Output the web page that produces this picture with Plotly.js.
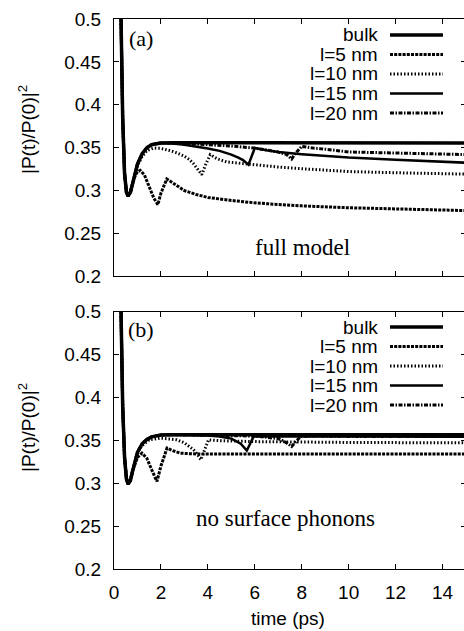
<!DOCTYPE html>
<html>
<head>
<meta charset="utf-8">
<script src="https://cdn.plot.ly/plotly-3.0.1.min.js"></script>
<style>
html,body{margin:0;padding:0;overflow:hidden;background:#fff;}
#chart{width:467px;height:631px;}
</style>
</head>
<body>
<div id="chart"></div>
<script>
// ---------- data ----------
var seriesNames = ['bulk', 'l=5 nm', 'l=10 nm', 'l=15 nm', 'l=20 nm'];
var xTickVals = [0, 2, 4, 6, 8, 10, 12, 14];

// Panel (a): full model
var bulkA_t = [0,0.1,0.2,0.3,0.37,0.45,0.53,0.6,0.7,0.8,0.9,1.0,1.2,1.4,1.6,1.8,2.0,2.5,3,4,6,8,10,12,15];
var bulkA_y = [1.0,0.93,0.75,0.5,0.385,0.32,0.298,0.2935,0.298,0.309,0.321,0.331,0.343,0.35,0.3535,0.355,0.3555,0.3558,0.3558,0.3557,0.3556,0.3555,0.3555,0.3555,0.3555];

var l5A_t = [0,0.1,0.2,0.3,0.37,0.45,0.53,0.6,0.7,0.8,0.9,1.0,1.12,1.3,1.5,1.7,1.87,2.0,2.25,2.5,3.0,3.5,4,5,6,7,8,10,12,14,15];
var l5A_y = [1.0,0.93,0.75,0.5,0.385,0.32,0.298,0.2935,0.299,0.309,0.317,0.322,0.3236,0.318,0.305,0.291,0.2837,0.297,0.3136,0.309,0.300,0.2955,0.292,0.2885,0.2857,0.2838,0.2822,0.2800,0.2785,0.2772,0.2767];

var l10A_t = [0,0.1,0.2,0.3,0.37,0.45,0.53,0.6,0.7,0.8,0.9,1.0,1.2,1.4,1.7,2.0,2.4,2.7,3.0,3.2,3.4,3.6,3.74,3.9,4.1,4.4,4.8,5.5,6,7,8,10,12,14,15];
var l10A_y = [1.0,0.93,0.75,0.5,0.385,0.32,0.298,0.2935,0.298,0.309,0.32,0.329,0.34,0.3465,0.3496,0.3492,0.3465,0.3438,0.340,0.3365,0.331,0.3235,0.3186,0.330,0.3419,0.337,0.3335,0.3315,0.330,0.3275,0.3255,0.3222,0.3208,0.3197,0.3192];

var l15A_t = [0,0.1,0.2,0.3,0.37,0.45,0.53,0.6,0.7,0.8,0.9,1.0,1.2,1.4,1.6,1.8,2.0,2.5,3.0,3.5,4.0,4.5,5.0,5.3,5.5,5.73,5.85,6.0,6.5,7,8,9,10,12,14,15];
var l15A_y = [1.0,0.93,0.75,0.5,0.385,0.32,0.298,0.2935,0.298,0.309,0.321,0.331,0.343,0.35,0.3535,0.355,0.3555,0.355,0.3535,0.3515,0.349,0.3463,0.342,0.3385,0.3355,0.3302,0.340,0.3496,0.347,0.345,0.3425,0.3405,0.3385,0.336,0.3335,0.3325];

var l20A_t = [0,0.1,0.2,0.3,0.37,0.45,0.53,0.6,0.7,0.8,0.9,1.0,1.2,1.4,1.6,1.8,2.0,2.5,3,4,5,6,6.5,7,7.36,7.57,7.75,8.0,8.5,9,10,12,14,15];
var l20A_y = [1.0,0.93,0.75,0.5,0.385,0.32,0.298,0.2935,0.298,0.309,0.321,0.331,0.343,0.35,0.3535,0.355,0.3555,0.3555,0.355,0.3535,0.352,0.3495,0.3475,0.345,0.342,0.3369,0.344,0.3516,0.3495,0.3483,0.345,0.3435,0.3425,0.342];

// Panel (b): no surface phonons
var bulkB_t = [0,0.1,0.2,0.3,0.37,0.45,0.53,0.6,0.7,0.8,0.9,1.0,1.2,1.4,1.6,1.8,2.0,2.5,3,4,6,8,10,12,15];
var bulkB_y = [1.0,0.93,0.75,0.5,0.39,0.33,0.305,0.299,0.303,0.315,0.327,0.336,0.346,0.351,0.354,0.3555,0.3562,0.3565,0.3565,0.3565,0.3565,0.3565,0.3565,0.3565,0.3565];

var l5B_t = [0,0.1,0.2,0.3,0.37,0.45,0.53,0.6,0.7,0.8,0.9,1.0,1.19,1.4,1.6,1.83,2.0,2.26,2.5,2.82,3.5,4,6,8,10,12,15];
var l5B_y = [1.0,0.93,0.75,0.5,0.39,0.33,0.305,0.299,0.305,0.315,0.324,0.330,0.335,0.329,0.316,0.302,0.320,0.341,0.338,0.335,0.334,0.334,0.334,0.334,0.334,0.334,0.334];

var l10B_t = [0,0.1,0.2,0.3,0.37,0.45,0.53,0.6,0.7,0.8,0.9,1.0,1.2,1.5,2.0,2.68,3.0,3.39,3.55,3.7,3.85,4.03,4.5,6,10,15];
var l10B_y = [1.0,0.93,0.75,0.5,0.39,0.33,0.305,0.299,0.303,0.315,0.327,0.336,0.344,0.3505,0.3525,0.3506,0.347,0.339,0.334,0.3273,0.338,0.3506,0.3495,0.3485,0.3475,0.347];

var l15B_t = [0,0.1,0.2,0.3,0.37,0.45,0.53,0.6,0.7,0.8,0.9,1.0,1.2,1.4,1.6,1.8,2.0,2.5,3,4,4.5,5.0,5.4,5.66,5.8,5.95,6.5,10,15];
var l15B_y = [1.0,0.93,0.75,0.5,0.39,0.33,0.305,0.299,0.303,0.315,0.327,0.336,0.346,0.351,0.354,0.3555,0.3562,0.3565,0.3563,0.3555,0.3545,0.352,0.346,0.338,0.346,0.3545,0.3548,0.3545,0.354];

var l20B_t = [0,0.1,0.2,0.3,0.37,0.45,0.53,0.6,0.7,0.8,0.9,1.0,1.2,1.4,1.6,1.8,2.0,2.5,4,6,7,7.3,7.57,7.75,7.95,8.5,10,15];
var l20B_y = [1.0,0.93,0.75,0.5,0.39,0.33,0.305,0.299,0.303,0.315,0.327,0.336,0.346,0.351,0.354,0.3555,0.3562,0.3565,0.356,0.355,0.352,0.348,0.3428,0.349,0.3545,0.355,0.3545,0.3545];

// ---------- styles ----------
var lineStyles = [
  {width: 3.5, dash: 'solid'},
  {width: 3, dash: '3px,1.2px'},
  {width: 3, dash: '1.5px,2px'},
  {width: 2.5, dash: 'solid'},
  {width: 3, dash: '4px,1.5px,1.5px,1.5px'}
];

var panelA = [[bulkA_t,bulkA_y],[l5A_t,l5A_y],[l10A_t,l10A_y],[l15A_t,l15A_y],[l20A_t,l20A_y]];
var panelB = [[bulkB_t,bulkB_y],[l5B_t,l5B_y],[l10B_t,l10B_y],[l15B_t,l15B_y],[l20B_t,l20B_y]];

var traces = [];
panelA.forEach(function(s, i){
  traces.push({x: s[0], y: s[1], xaxis: 'x', yaxis: 'y', mode: 'lines', name: seriesNames[i],
    showlegend: false, line: {color: '#000', width: lineStyles[i].width, dash: lineStyles[i].dash}});
});
panelB.forEach(function(s, i){
  traces.push({x: s[0], y: s[1], xaxis: 'x2', yaxis: 'y2', mode: 'lines', name: seriesNames[i],
    showlegend: false, line: {color: '#000', width: lineStyles[i].width, dash: lineStyles[i].dash}});
});

var sansFont = {family: 'Liberation Sans, Arial, sans-serif', size: 19, color: '#000'};
var serifFont = {family: 'Liberation Serif, Times New Roman, serif', size: 23, color: '#000'};

function xax(showLabels, anchor) {
  return {domain: [0, 1], anchor: anchor, range: [0, 15], tickvals: xTickVals, ticks: 'inside', ticklen: 5,
    tickcolor: '#000', showline: true, linecolor: '#000', linewidth: 1, mirror: 'ticks',
    showgrid: false, zeroline: false, showticklabels: showLabels, tickfont: sansFont, ticklabelstandoff: 6};
}
function yax(domain, anchor) {
  return {domain: domain, anchor: anchor, range: [0.2, 0.5], dtick: 0.05, tick0: 0.2, ticks: 'inside', ticklen: 5,
    tickcolor: '#000', showline: true, linecolor: '#000', linewidth: 1, mirror: 'ticks',
    showgrid: false, zeroline: false, tickfont: sansFont, ticklabelstandoff: 8};
}

var H = 550, TOP = 19, LEFT = 114, W = 352;
function py(p){ return (TOP + H - p) / H; }   // pixel y -> paper y
function px(p){ return (p - LEFT) / W; }      // pixel x -> paper x

var annotations = [
  {text: '|P(t)/P(0)|<sup>2</sup>', xref: 'paper', yref: 'paper', x: px(27), y: py(130), textangle: -90,
   showarrow: false, xanchor: 'center', yanchor: 'middle', font: sansFont},
  {text: '|P(t)/P(0)|<sup>2</sup>', xref: 'paper', yref: 'paper', x: px(27), y: py(428), textangle: -90,
   showarrow: false, xanchor: 'center', yanchor: 'middle', font: sansFont},
  {text: 'time (ps)', xref: 'paper', yref: 'paper', x: px(288), y: py(618), showarrow: false,
   xanchor: 'center', yanchor: 'middle', font: sansFont},
  {text: '(a)', xref: 'paper', yref: 'paper', x: px(141), y: py(38), showarrow: false,
   xanchor: 'center', yanchor: 'middle', font: {family: serifFont.family, size: 22, color: '#000'}},
  {text: '(b)', xref: 'paper', yref: 'paper', x: px(141), y: py(329), showarrow: false,
   xanchor: 'center', yanchor: 'middle', font: {family: serifFont.family, size: 22, color: '#000'}},
  {text: 'full model', xref: 'paper', yref: 'paper', x: px(302), y: py(247), showarrow: false,
   xanchor: 'center', yanchor: 'middle', font: serifFont},
  {text: 'no surface phonons', xref: 'paper', yref: 'paper', x: px(285), y: py(518), showarrow: false,
   xanchor: 'center', yanchor: 'middle', font: serifFont}
];

var shapes = [];
var legendTops = [35, 327];
legendTops.forEach(function(top){
  seriesNames.forEach(function(n, i){
    var yy = py(top + i * 19.5);
    annotations.push({text: n, xref: 'paper', yref: 'paper', x: px(380), y: yy, showarrow: false,
      xanchor: 'right', yanchor: 'middle', font: sansFont});
    shapes.push({type: 'line', xref: 'paper', yref: 'paper', x0: px(390), x1: px(443), y0: yy, y1: yy,
      line: {color: '#000', width: lineStyles[i].width, dash: lineStyles[i].dash}});
  });
});

var layout = {
  width: 467, height: 631,
  margin: {l: LEFT, r: 1, t: TOP, b: 62},
  paper_bgcolor: '#fff', plot_bgcolor: '#fff',
  showlegend: false,
  xaxis: xax(false, 'y'),
  yaxis: yax([0.532, 1], 'x'),
  xaxis2: xax(true, 'y2'),
  yaxis2: yax([0, 0.468], 'x2'),
  annotations: annotations,
  shapes: shapes,
  font: sansFont
};

Plotly.newPlot('chart', traces, layout, {staticPlot: true, displayModeBar: false});
</script>
</body>
</html>
